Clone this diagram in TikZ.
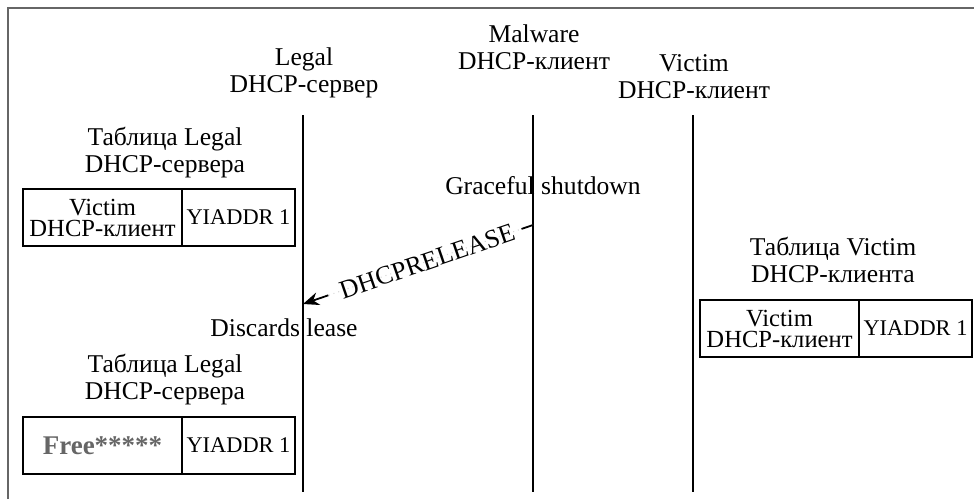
\documentclass[tikz,border=0pt]{standalone}
\usepackage{fontspec}
\setmainfont{Liberation Serif}
\usetikzlibrary{arrows.meta}
\usetikzlibrary{calc}
\usetikzlibrary{positioning}

\tikzset{
	lifeline/.style={line width=1.1pt},
	headlabel/.style={align=center, font=\fontsize{12.8}{13.5}\selectfont},
	namecell/.style={draw, line width=0.9pt, outer sep=0pt, inner sep=0pt, minimum width=79.5pt, minimum height=28.5pt, align=center, font=\fontsize{12.3}{10.5}\selectfont},
	addrcell/.style={namecell, minimum width=56.5pt, font=\fontsize{11.2}{12}\selectfont},
	relline/.style={gray!35, line width=0.5pt, dotted},
}

\begin{document}
\begin{tikzpicture}[x=0.5pt, y=-0.5pt]
		\useasboundingbox (0,0) rectangle (974,499);
		\draw[black!60, line width=1pt] (8,499) -- (8,8) -- (974,8);

		\node[headlabel] (legalhead) at (304,73) {Legal\\DHCP-сервер};
		\node[headlabel] (malhead) at (534,47) {Malware\\DHCP-клиент};
		\node[headlabel] (vichead) at (694,77) {Victim\\DHCP-клиент};

		\coordinate (legaltop) at (303,115);
		\coordinate (legalbot) at (303,492);
		\coordinate (maltop) at (533,115);
		\coordinate (malbot) at (533,492);
		\coordinate (victop) at (693,115);
		\coordinate (vicbot) at (693,492);
		\draw[lifeline] (legaltop) -- (legalbot);
		\draw[lifeline] (maltop) -- (malbot);
		\draw[lifeline] (victop) -- (vicbot);

		\node[headlabel] (legaltabhead) at (165,153) {Таблица Legal\\DHCP-сервера};
		\node[namecell] (legalname) at (102.5,217.5) {Victim\\DHCP-клиент};
		\node[addrcell, right=0pt of legalname] (legaladdr) {YIADDR 1};

		\node[headlabel] (shutdown) at (543,186) {Graceful shutdown};

		\coordinate (relstart) at (533,225);
		\coordinate (relend) at (303,304);
		\draw[relline] (relstart) -- node[pos=0.46, sloped, black, font=\fontsize{13}{13}\selectfont] (rellabel) {DHCPRELEASE} (relend);
		\draw[line width=0.9pt] (relstart) -- ($(relstart)!0.05!(relend)$);
		\draw[line width=0.9pt, -{Stealth[length=8pt, width=6.5pt]}] ($(relstart)!0.89!(relend)$) -- (relend);

		\node[headlabel] (discards) at (284,328) {Discards lease};

		\node[headlabel] (freetabhead) at (165,380) {Таблица Legal\\DHCP-сервера};
		\node[namecell, text=black!60, font=\bfseries\fontsize{13.5}{14}\selectfont] (freename) at (102.5,445.5) {Free*****};
		\node[addrcell, right=0pt of freename] (freeaddr) {YIADDR 1};

		\node[headlabel] (victabhead) at (833,260) {Таблица Victim\\DHCP-клиента};
		\node[namecell] (vicname) at (779.5,328.5) {Victim\\DHCP-клиент};
		\node[addrcell, right=0pt of vicname] (vicaddr) {YIADDR 1};
\end{tikzpicture}
\end{document}
